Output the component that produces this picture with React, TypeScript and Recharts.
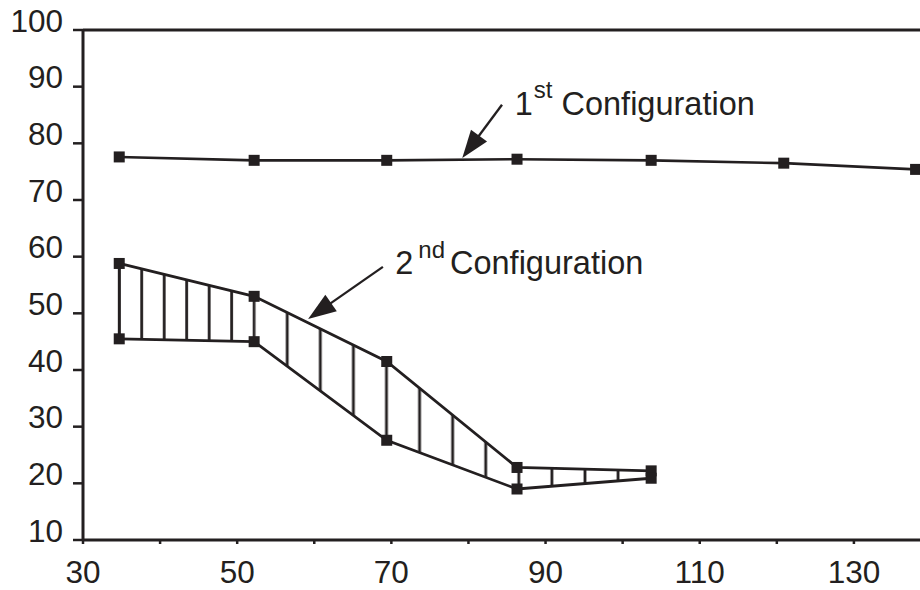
import React from 'react';
import { ComposedChart, Line, Area, XAxis, YAxis, ReferenceLine, ReferenceDot } from 'recharts';

const INK = '#231f20';
const FONT = '"Liberation Sans", Arial, sans-serif';

// measured points
const xValues = [34.7, 52.2, 69.4, 86.3, 103.7, 120.9, 138];
const config1 = [77.6, 77.0, 77.0, 77.2, 77.0, 76.5, 75.4];
const config2Upper = [58.8, 53.0, 41.5, 22.8, 22.2];
const config2Lower = [45.5, 45.0, 27.6, 19.0, 20.9];

const xTicks = [30, 40, 50, 60, 70, 80, 90, 100, 110, 120, 130, 140];
const xLabels = [30, 50, 70, 90, 110, 130];
const yTicks = [10, 20, 30, 40, 50, 60, 70, 80, 90, 100];

// annotation anchors (data units)
const label1At = { x: 86.0, y: 85.0 };
const label2At = { x: 70.5, y: 56.9 };
const arrow1 = [{ x: 84.35, y: 86.8 }, { x: 79.2, y: 77.4 }];
const arrow2 = [{ x: 68.9, y: 58.2 }, { x: 59.2, y: 49.0 }];

// layout (the plot runs past the right edge of the window, like the cropped original)
const CHART_W = 950;
const CHART_H = 590;
const M_TOP = 30;
const M_RIGHT = 19;
const Y_W = 83;
const X_H = 50;
const X_MIN = 30;
const X_MAX = 140;
const plotW = CHART_W - M_RIGHT - Y_W;
const xPx = (v: number) => Y_W + ((v - X_MIN) / (X_MAX - X_MIN)) * plotW;

const rows = xValues.map((x, i) => {
  const up = config2Upper[i];
  const lo = config2Lower[i];
  return {
    x,
    c1: config1[i],
    up,
    lo,
    rangeA: i <= 1 ? [lo, up] : undefined,
    rangeB: i >= 1 && i < config2Upper.length ? [lo, up] : undefined,
  };
});

// hatch spacing: first segment split in 6, the rest in 4 per segment
const stepA = (xPx(xValues[1]) - xPx(xValues[0])) / 6;
const stepB = (xPx(xValues[4]) - xPx(xValues[1])) / 12;

const SquareDot = (props: any) => {
  const { cx, cy, index, dataKey } = props;
  if (cx == null || cy == null || isNaN(cy)) return <g key={`${dataKey}-${index}`} />;
  return <rect key={`${dataKey}-${index}`} x={cx - 5.5} y={cy - 5.5} width={11} height={11} fill={INK} />;
};

const YTick = (props: any) => {
  const { x, y, payload } = props;
  return (
    <text x={x} y={y + 1.5} textAnchor="end" fontSize={31.5} fontFamily={FONT} fill={INK}>
      {payload.value}
    </text>
  );
};

const XTick = (props: any) => {
  const { x, y, payload } = props;
  if (!xLabels.includes(payload.value)) return <g />;
  return (
    <text x={x} y={y + 39} textAnchor="middle" fontSize={31.5} fontFamily={FONT} fill={INK}>
      {payload.value}
    </text>
  );
};

const arrowShape = (p: any) => {
  const { x1, y1, x2, y2 } = p;
  const dx = x2 - x1;
  const dy = y2 - y1;
  const len = Math.hypot(dx, dy) || 1;
  const ux = dx / len;
  const uy = dy / len;
  const head = 28;
  const half = 10;
  const bx = x2 - ux * head;
  const by = y2 - uy * head;
  return (
    <g>
      <line x1={x1} y1={y1} x2={bx + ux * 2} y2={by + uy * 2} stroke={INK} strokeWidth={2.3} />
      <polygon
        points={`${x2},${y2} ${bx - uy * half},${by + ux * half} ${bx + uy * half},${by - ux * half}`}
        fill={INK}
      />
    </g>
  );
};

const label1Shape = (p: any) => (
  <text x={p.cx} y={p.cy} fontSize={32.5} fontFamily={FONT} fill={INK}>
    1
    <tspan dx={1} dy={-17} fontSize={24}>st</tspan>
    <tspan dx={0} dy={17} fontSize={32.5}> Configuration</tspan>
  </text>
);

const label2Shape = (p: any) => (
  <text x={p.cx} y={p.cy} fontSize={32.5} fontFamily={FONT} fill={INK}>
    2
    <tspan dx={5} dy={-16} fontSize={24}>nd</tspan>
    <tspan dx={5} dy={16} fontSize={32.5}>Configuration</tspan>
  </text>
);

export default function App() {
  return (
    <div
      style={{
        position: 'fixed',
        left: 0,
        top: 0,
        width: 920,
        height: 590,
        overflow: 'hidden',
        background: '#fff',
      }}
    >
      <ComposedChart
        width={CHART_W}
        height={CHART_H}
        data={rows}
        margin={{ top: M_TOP, right: M_RIGHT, bottom: 0, left: 0 }}
      >
        <defs>
          <pattern
            id="hatchA"
            patternUnits="userSpaceOnUse"
            x={xPx(xValues[0]) - stepA / 2}
            y={0}
            width={stepA}
            height={CHART_H}
          >
            <line x1={stepA / 2} y1={0} x2={stepA / 2} y2={CHART_H} stroke={INK} strokeWidth={2.8} />
          </pattern>
          <pattern
            id="hatchB"
            patternUnits="userSpaceOnUse"
            x={xPx(xValues[1]) - stepB / 2}
            y={0}
            width={stepB}
            height={CHART_H}
          >
            <line x1={stepB / 2} y1={0} x2={stepB / 2} y2={CHART_H} stroke={INK} strokeWidth={2.8} />
          </pattern>
        </defs>
        <XAxis
          type="number"
          dataKey="x"
          domain={[X_MIN, X_MAX]}
          ticks={xTicks}
          interval={0}
          height={X_H}
          tickSize={4}
          tickMargin={0}
          axisLine={{ stroke: INK, strokeWidth: 3 }}
          tickLine={{ stroke: INK, strokeWidth: 2.5 }}
          tick={<XTick />}
          allowDataOverflow
        />
        <YAxis
          type="number"
          domain={[10, 100]}
          ticks={yTicks}
          interval={0}
          width={Y_W}
          tickSize={10}
          tickMargin={10}
          axisLine={{ stroke: INK, strokeWidth: 3 }}
          tickLine={{ stroke: INK, strokeWidth: 2.5 }}
          tick={<YTick />}
          allowDataOverflow
        />
        <ReferenceLine y={100} stroke={INK} strokeWidth={3} />

        <Area dataKey="rangeA" type="linear" stroke="none" fill="url(#hatchA)" fillOpacity={1} isAnimationActive={false} />
        <Area dataKey="rangeB" type="linear" stroke="none" fill="url(#hatchB)" fillOpacity={1} isAnimationActive={false} />
        <ReferenceLine
          segment={[{ x: xValues[0], y: config2Lower[0] }, { x: xValues[0], y: config2Upper[0] }]}
          stroke={INK}
          strokeWidth={2.8}
        />

        <Line dataKey="c1" type="linear" stroke={INK} strokeWidth={2.6} dot={SquareDot} activeDot={false} isAnimationActive={false} />
        <Line dataKey="up" type="linear" stroke={INK} strokeWidth={2.8} dot={SquareDot} activeDot={false} isAnimationActive={false} />
        <Line dataKey="lo" type="linear" stroke={INK} strokeWidth={2.8} dot={SquareDot} activeDot={false} isAnimationActive={false} />

        <ReferenceLine segment={arrow1} shape={arrowShape} ifOverflow="visible" />
        <ReferenceLine segment={arrow2} shape={arrowShape} ifOverflow="visible" />
        <ReferenceDot x={label1At.x} y={label1At.y} r={0} shape={label1Shape} ifOverflow="visible" />
        <ReferenceDot x={label2At.x} y={label2At.y} r={0} shape={label2Shape} ifOverflow="visible" />
      </ComposedChart>
    </div>
  );
}
